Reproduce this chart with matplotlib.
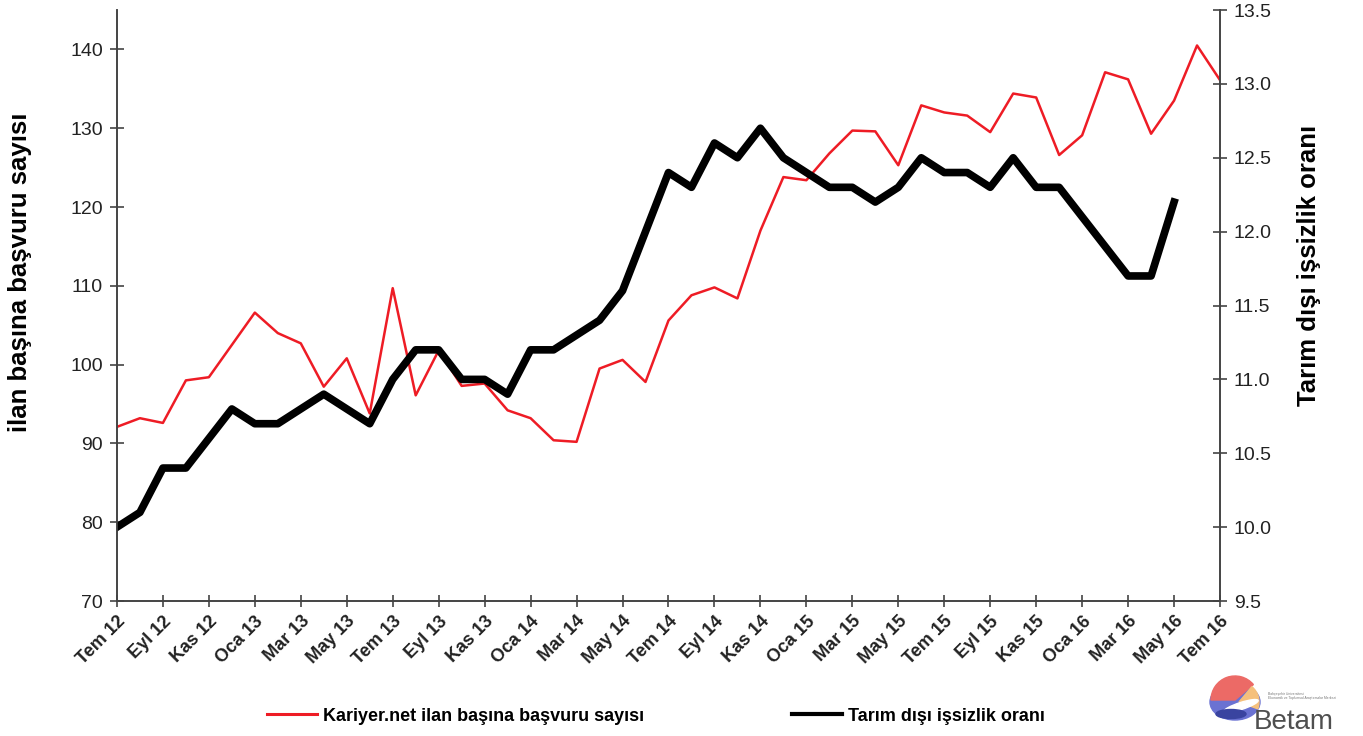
import numpy as np
import matplotlib.pyplot as plt
from matplotlib.lines import Line2D
from matplotlib.patches import Ellipse, Wedge

plt.rcParams["font.family"] = ["Liberation Sans", "DejaVu Sans"]

# months Tem 12 .. Tem 16, labels every second month
tick_labels = ["Tem 12", "Eyl 12", "Kas 12", "Oca 13", "Mar 13", "May 13",
               "Tem 13", "Eyl 13", "Kas 13", "Oca 14", "Mar 14", "May 14",
               "Tem 14", "Eyl 14", "Kas 14", "Oca 15", "Mar 15", "May 15",
               "Tem 15", "Eyl 15", "Kas 15", "Oca 16", "Mar 16", "May 16",
               "Tem 16"]

basvuru = [92.1, 93.2, 92.6, 98.0, 98.4, 102.5, 106.6, 104.0, 102.7, 97.2,
           100.8, 93.8, 109.7, 96.1, 101.8, 97.3, 97.6, 94.2, 93.2, 90.4,
           90.2, 99.5, 100.6, 97.8, 105.6, 108.8, 109.8, 108.4, 117.0, 123.8,
           123.4, 126.8, 129.7, 129.6, 125.3, 132.9, 132.0, 131.6, 129.5, 134.4,
           133.9, 126.6, 129.1, 137.1, 136.2, 129.3, 133.5, 140.5, 136.1]

issizlik = [10.0, 10.1, 10.4, 10.4, 10.6, 10.8, 10.7, 10.7, 10.8, 10.9,
            10.8, 10.7, 11.0, 11.2, 11.2, 11.0, 11.0, 10.9, 11.2, 11.2,
            11.3, 11.4, 11.6, 12.0, 12.4, 12.3, 12.6, 12.5, 12.7, 12.5,
            12.4, 12.3, 12.3, 12.2, 12.3, 12.5, 12.4, 12.4, 12.3, 12.5,
            12.3, 12.3, 12.1, 11.9, 11.7, 11.7, 12.2]

red = "#ee1c25"

fig = plt.figure(figsize=(13.63, 7.36), dpi=100)
ax = fig.add_axes([0.0858, 0.1834, 0.8093, 0.803])
ax2 = ax.twinx()

ax.plot(np.arange(len(basvuru)), basvuru, color=red, lw=1.8)
ax2.plot(np.arange(len(issizlik)), issizlik, color="black", lw=5.5)

ax.set_xlim(0, 48)
ax.set_ylim(70, 145)
ax.set_yticks(np.arange(70, 141, 10))
ax2.set_ylim(9.5, 13.5)
r_ticks = np.arange(9.5, 13.51, 0.5)
ax2.set_yticks(r_ticks)
ax2.set_yticklabels([f"{v:.1f}" for v in r_ticks])

ax.set_xticks(np.arange(0, 49, 2))
ax.set_xticklabels(tick_labels, rotation=45, ha="right", rotation_mode="anchor",
                   fontweight="bold", fontsize=13)

for a in (ax, ax2):
    a.spines["top"].set_visible(False)
    for s in a.spines.values():
        s.set_color("#444444")
        s.set_linewidth(1.2)
    a.tick_params(axis="y", direction="inout", length=10, width=1.2,
                  labelsize=14, colors="#444444", labelcolor="#222222", pad=5)
ax.tick_params(axis="x", direction="inout", length=9, width=1.2,
               colors="#444444", labelcolor="#222222", pad=4)

fig.text(20 / 1363, 1 - 272 / 736, "ilan başına başvuru sayısı", rotation=90,
         ha="center", va="center", fontsize=18.5, fontweight="bold")
fig.text(1309 / 1363, 1 - 265 / 736, "Tarım dışı işsizlik oranı", rotation=90,
         ha="center", va="center", fontsize=18.5, fontweight="bold")

handles = [Line2D([], [], color=red, lw=2.2),
           Line2D([], [], color="black", lw=3.0)]
fig.legend(handles, ["Kariyer.net ilan başına başvuru sayısı",
                     "Tarım dışı işsizlik oranı"],
           loc="center", bbox_to_anchor=(0.481, 0.027), ncol=2, frameon=False,
           columnspacing=8.2, handlelength=2.8, handletextpad=0.3,
           prop={"weight": "bold", "size": 13})

# Betam logo (pixel units inside a small axes)
lax = fig.add_axes([1195 / 1363, 0, 168 / 1363, 84 / 736])
lax.set_xlim(0, 168)
lax.set_ylim(0, 84)
lax.axis("off")
lax.add_patch(Ellipse((40, 34), 50, 36, color="#6a72d2"))
lax.add_patch(Wedge((40, 36), 24, 40, 180, color="#ec6a66"))
lax.add_patch(Wedge((44, 34), 20, -20, 50, color="#f5c07c"))
lax.add_patch(Ellipse((46, 30), 36, 7, angle=18, color="white"))
lax.add_patch(Ellipse((36, 22), 30, 9, color="#3a44a0"))
lax.text(59, 7, "Betam", fontsize=20, color="#4f4f4f", va="baseline")
lax.text(73, 40, "Bahçeşehir Üniversitesi\nEkonomik ve Toplumsal Araştırmalar Merkezi",
         fontsize=2.4, color="#777777", va="center", linespacing=1.2)

fig.savefig("out.png", dpi=100)
